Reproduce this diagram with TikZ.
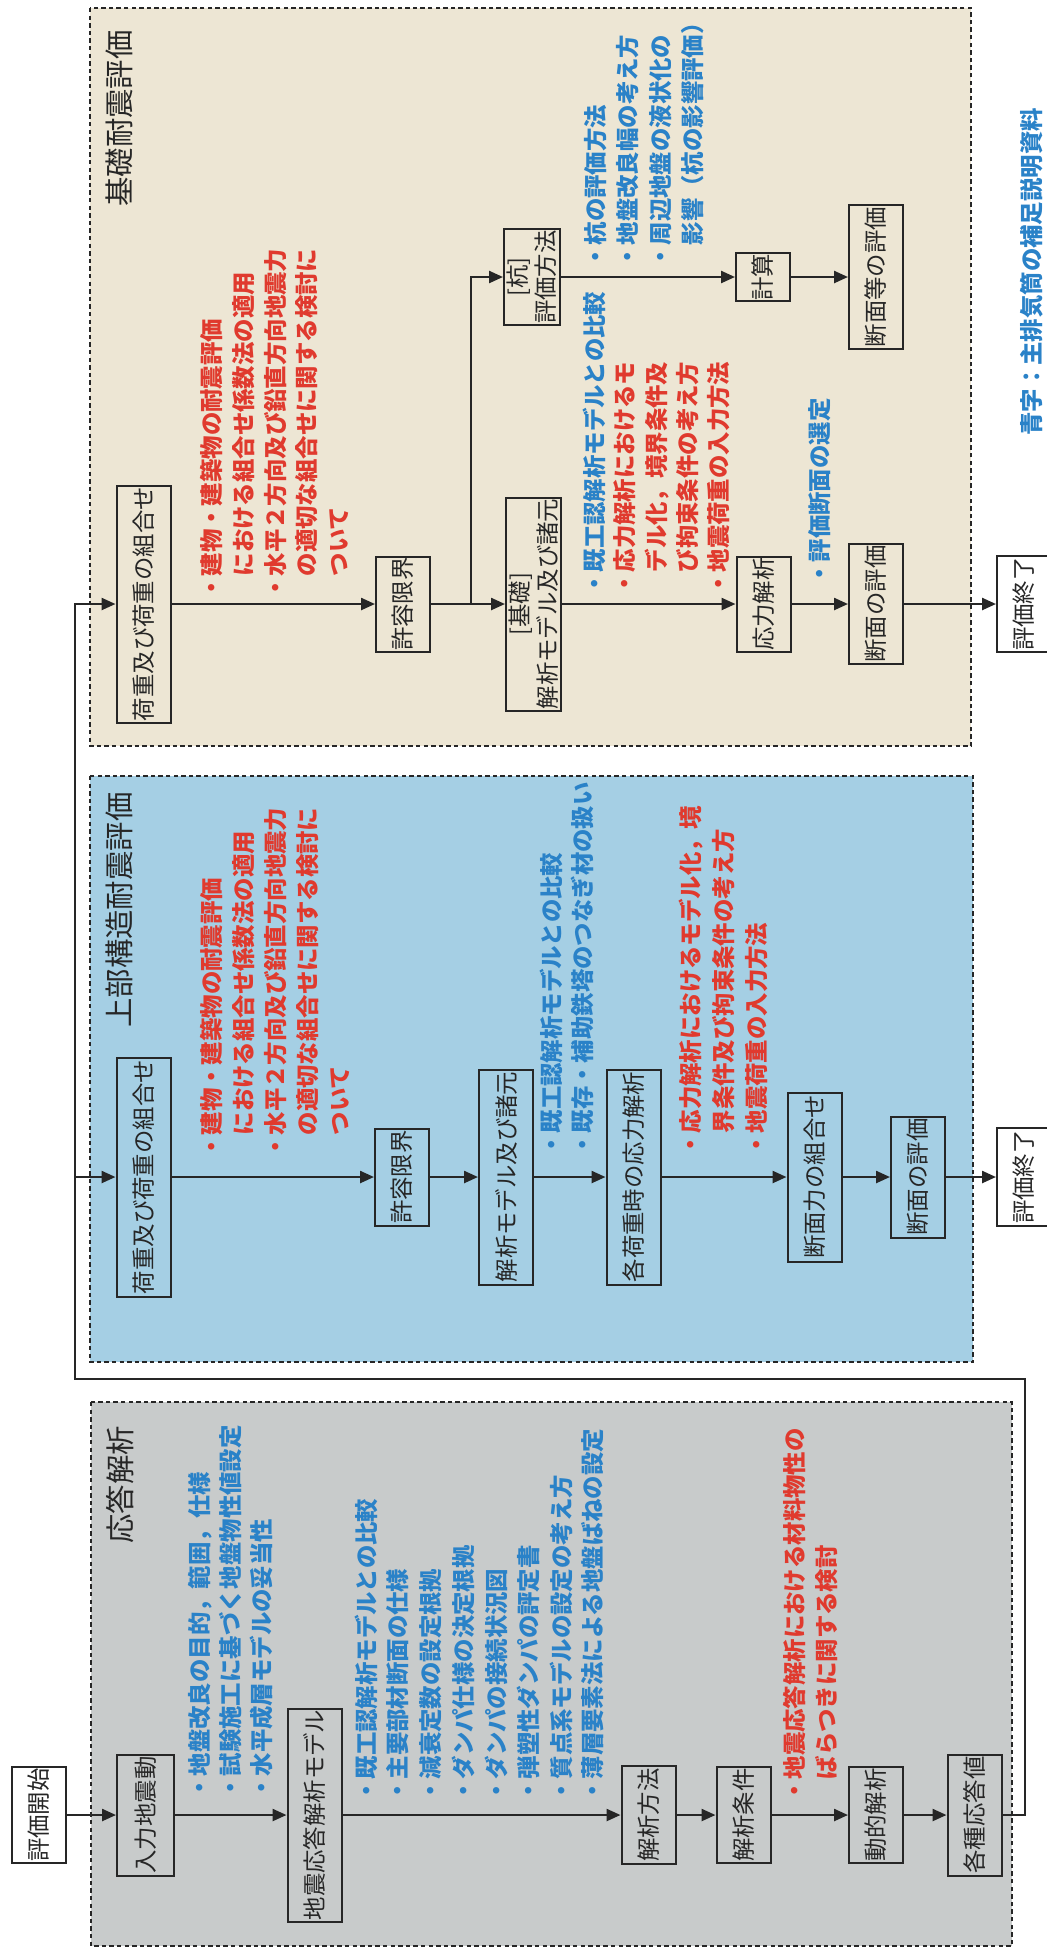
\documentclass[tikz,border=0pt]{standalone}
\usepackage{fontspec}
\setmainfont{Noto Sans CJK JP}
\usetikzlibrary{arrows.meta}

\definecolor{beigebg}{HTML}{EDE6D4}
\definecolor{bluebg}{HTML}{A5CFE4}
\definecolor{graybg}{HTML}{C8CBCB}
\definecolor{notered}{HTML}{E03A2E}
\definecolor{noteblue}{HTML}{2A82C8}
\definecolor{ink}{HTML}{262626}

\newcommand\boxfont{\fontsize{11.7}{14}\selectfont}
\newcommand\headfont{\fontsize{14.7}{17}\selectfont}
\newcommand\ind{\phantom{・}}

\tikzset{
  panel/.style={draw=ink, line width=0.6pt, dash pattern=on 2.2pt off 1.6pt},
  fbox/.style 2 args={draw=ink, line width=1pt, rotate=90, inner sep=0pt,
    align=center, font=\boxfont, text=ink,
    minimum width={#1*0.5pt}, minimum height={#2*0.5pt}},
  sbox/.style={fbox={#1}{54}},
  note/.style={rotate=90, anchor=west, inner sep=0pt, font=\boxfont\bfseries, text=#1},
  head/.style={rotate=90, anchor=west, inner sep=0pt, font=\headfont, text=ink},
  link/.style={draw=ink, line width=1.2pt},
  flow/.style={link, -{Triangle[length=7pt,width=6pt]}}
}

\begin{document}
\begin{tikzpicture}[x=0.5pt, y=-0.5pt]
\clip (0,0) rectangle (1047,1950);
\fill[white] (0,0) rectangle (1047,1950);

% ---------- panels ----------
\draw[panel, fill=beigebg] (90,8) rectangle (971,746);
\draw[panel, fill=bluebg] (90,776) rectangle (973,1362);
\draw[panel, fill=graybg] (91,1402) rectangle (1012,1946);

\node[head] (hA) at (119,207) {基礎耐震評価};
\node[head] (hB) at (119,1028) {上部構造耐震評価};
\node[head] (hC) at (120,1544) {応答解析};

% ---------- response analysis ----------
\node[sbox=96]  (g0) at (38.5,1815) {評価開始};
\node[fbox={121}{57}] (g1) at (145.5,1815) {入力地震動};
\node[sbox=213] (g2) at (314.5,1815) {地震応答解析モデル};
\node[sbox=98]  (g3) at (648.5,1815) {解析方法};
\node[sbox=96]  (g4) at (743.5,1815) {解析条件};
\node[sbox=96]  (g5) at (876,1815) {動的解析};
\node[sbox=121] (g6) at (974.5,1815) {各種応答値};

\node[note=noteblue] (gt1) at (200,1800) {・地盤改良の目的，範囲，仕様};
\node[note=noteblue] (gt2) at (231,1800) {・試験施工に基づく地盤物性値設定};
\node[note=noteblue] (gt3) at (262,1800) {・水平成層モデルの妥当性};

\node[note=noteblue] (gm1) at (366,1803) {・既工認解析モデルとの比較};
\node[note=noteblue] (gm2) at (398,1803) {・主要部材断面の仕様};
\node[note=noteblue] (gm3) at (431,1803) {・減衰定数の設定根拠};
\node[note=noteblue] (gm4) at (463,1803) {・ダンパ仕様の決定根拠};
\node[note=noteblue] (gm5) at (496,1803) {・ダンパの接続状況図};
\node[note=noteblue] (gm6) at (528,1803) {・弾塑性ダンパの評定書};
\node[note=noteblue] (gm7) at (561,1803) {・質点系モデルの設定の考え方};
\node[note=noteblue] (gm8) at (593,1803) {・薄層要素法による地盤ばねの設定};

\node[note=notered] (gr1) at (795,1803) {・地震応答解析における材料物性の};
\node[note=notered] (gr2) at (827,1803) {\ind ばらつきに関する検討};

\draw[flow] (g0) -- (g1);
\draw[flow] (g1) -- (g2);
\draw[flow] (g2) -- (g3);
\draw[flow] (g3) -- (g4);
\draw[flow] (g4) -- (g5);
\draw[flow] (g5) -- (g6);

% ---------- superstructure ----------
\node[sbox=239] (b1) at (143.5,1177) {荷重及び荷重の組合せ};
\node[sbox=97]  (b2) at (402,1177) {許容限界};
\node[sbox=215] (b3) at (506,1177) {解析モデル及び諸元};
\node[sbox=215] (b4) at (633.5,1177) {各荷重時の応力解析};
\node[sbox=169] (b5) at (814.5,1177) {断面力の組合せ};
\node[sbox=121] (b6) at (918,1177) {断面の評価};
\node[sbox=98]  (b7) at (1024,1177) {評価終了};

\node[note=notered] (bt1) at (212,1159) {・建物・建築物の耐震評価};
\node[note=notered] (bt2) at (244,1159) {\ind における組合せ係数法の適用};
\node[note=notered] (bt3) at (276,1159) {・水平２方向及び鉛直方向地震力};
\node[note=notered] (bt4) at (308,1159) {\ind の適切な組合せに関する検討に};
\node[note=notered] (bt5) at (340,1159) {\ind ついて};

\node[note=noteblue] (bm1) at (551,1157) {・既工認解析モデルとの比較};
\node[note=noteblue] (bm2) at (582,1157) {・既存・補助鉄塔のつなぎ材の扱い};

\node[note=notered] (bs1) at (691,1157) {・応力解析におけるモデル化，境};
\node[note=notered] (bs2) at (724,1157) {\ind 界条件及び拘束条件の考え方};
\node[note=notered] (bs3) at (757,1157) {・地震荷重の入力方法};

\draw[flow] (b1) -- (b2);
\draw[flow] (b2) -- (b3);
\draw[flow] (b3) -- (b4);
\draw[flow] (b4) -- (b5);
\draw[flow] (b5) -- (b6);
\draw[flow] (b6) -- (b7);

% ---------- foundation ----------
\node[sbox=237] (a1) at (143.5,604) {荷重及び荷重の組合せ};
\node[sbox=95]  (a2) at (403,604) {許容限界};
\node[fbox={213}{55}] (a3) at (533.5,604) {[基礎]\\解析モデル及び諸元};
\node[fbox={96}{56}]  (a4) at (532,277) {[杭]\\評価方法};
\node[sbox=48]  (a5) at (763,277) {計算};
\node[sbox=144] (a6) at (876,277) {断面等の評価};
\node[sbox=95]  (a7) at (763.5,604) {応力解析};
\node[sbox=120] (a8) at (876,604) {断面の評価};
\node[sbox=96]  (a9) at (1024,604) {評価終了};

\node[note=notered] (at1) at (212,600) {・建物・建築物の耐震評価};
\node[note=notered] (at2) at (244,600) {\ind における組合せ係数法の適用};
\node[note=notered] (at3) at (276,600) {・水平２方向及び鉛直方向地震力};
\node[note=notered] (at4) at (307,600) {\ind の適切な組合せに関する検討に};
\node[note=notered] (at5) at (339,600) {\ind ついて};

\node[note=noteblue] (ap1) at (596,269) {・杭の評価方法};
\node[note=noteblue] (ap2) at (628,269) {・地盤改良幅の考え方};
\node[note=noteblue] (ap3) at (661,269) {・周辺地盤の液状化の};
\node[note=noteblue] (ap4) at (693,269) {\ind 影響（杭の影響評価）};

\node[note=noteblue] (af1) at (594,596) {・既工認解析モデルとの比較};
\node[note=notered]  (af2) at (625,596) {・応力解析におけるモ};
\node[note=notered]  (af3) at (657,596) {\ind デル化，境界条件及};
\node[note=notered]  (af4) at (688,596) {\ind び拘束条件の考え方};
\node[note=notered]  (af5) at (719,596) {・地震荷重の入力方法};

\node[note=noteblue] (as1) at (820,586) {・評価断面の選定};

\coordinate (ja) at (471,604);
\draw[flow] (a1) -- (a2);
\draw[flow] (a2) -- (a3);
\draw[flow] (ja) |- (a4);
\draw[flow] (a4) -- (a5);
\draw[flow] (a5) -- (a6);
\draw[flow] (a3) -- (a7);
\draw[flow] (a7) -- (a8);
\draw[flow] (a8) -- (a9);

% ---------- return path from the response values ----------
\coordinate (lr) at (1025,1815);
\coordinate (lrt) at (1025,1379);
\coordinate (llt) at (75,1379);
\coordinate (llb) at (75,604);
\coordinate (jb) at (75,1177);
\draw[flow] (g6.south) -- (lr) -- (lrt) -- (llt) -- (llb) -- (a1);
\draw[flow] (jb) -- (b1);

% ---------- legend ----------
\node[note=noteblue] (cap) at (1032,436) {青字：主排気筒の補足説明資料};
\end{tikzpicture}
\end{document}
